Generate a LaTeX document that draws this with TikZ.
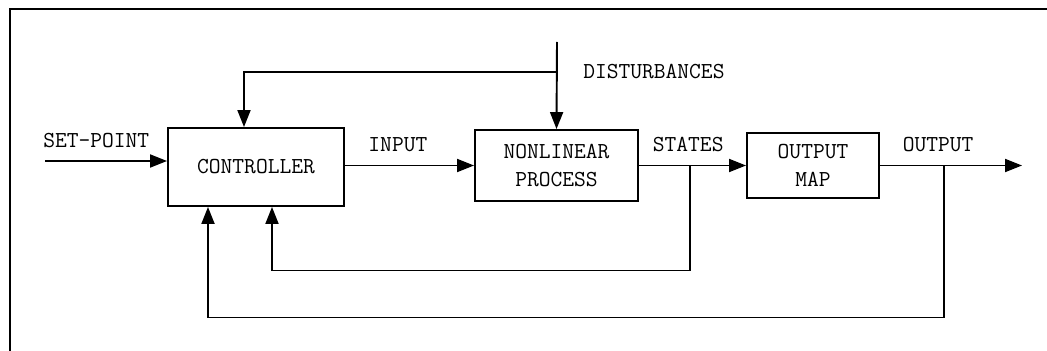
\documentclass[tikz,border=0pt]{standalone}
\usepackage{fontspec}
\usepackage{tikz}
\usetikzlibrary{positioning,arrows.meta,calc}

\begin{document}
\begin{tikzpicture}[
  x=0.02cm, y=-0.02cm,
  font=\ttfamily\fontsize{13}{16}\selectfont,
  blk/.style={draw, line width=1.1pt, align=center, inner sep=2pt},
  arr/.style={-{Triangle[length=3.4mm, width=2.6mm]}, line width=1.1pt},
  ln/.style={line width=1.1pt},
  lab/.style={inner sep=2pt}
]
\useasboundingbox (0,0) rectangle (1047,351);
% ----- frame -----
\draw[ln] (10,351) -- (10,9) -- (1047,9);
% ----- blocks -----
\node[blk, minimum width=3.52cm, minimum height=1.56cm] (ctrl) at (256,167) {CONTROLLER};
\node[blk, minimum width=3.26cm, minimum height=1.42cm] (proc) at (556.5,165.5) {NONLINEAR\\PROCESS};
\node[blk, minimum width=2.64cm, minimum height=1.30cm] (omap) at (813,165.5) {OUTPUT\\MAP};
% ----- free ends and branch points -----
\coordinate (sp) at (45,161);
\coordinate (out) at (1022,165.5);
\coordinate (dist) at (557,42);
\coordinate (djoin) at (557,72);
\coordinate (sbr) at ($(proc.east)!0.477!(omap.west)$);
\coordinate (obr) at ($(omap.east)!0.45!(out)$);
% ----- forward path -----
\draw[arr] (sp) -- node[lab, above=5pt, pos=0.42]{SET-POINT} (sp -| ctrl.west);
\draw[arr] (proc.west -| ctrl.east) -- node[lab, above=5pt, pos=0.41]{INPUT} (proc.west);
\draw[arr] (proc.east) -- node[lab, above=5pt, pos=0.46]{STATES} (omap.west);
\draw[arr] (omap.east) -- node[lab, above=5pt, pos=0.41]{OUTPUT} (out);
% ----- disturbances -----
\draw[arr] (dist) -- (proc.north);
\draw[arr] (djoin) -| ([xshift=-0.24cm]ctrl.north);
\node[lab, right=0.45cm of djoin] (distlbl) {DISTURBANCES};
% ----- feedback -----
\draw[arr] (sbr) -- ++(0,105) -| ([xshift=0.32cm]ctrl.south);
\draw[arr] (obr) -- ++(0,152) -| ([xshift=-0.96cm]ctrl.south);
\end{tikzpicture}
\end{document}
